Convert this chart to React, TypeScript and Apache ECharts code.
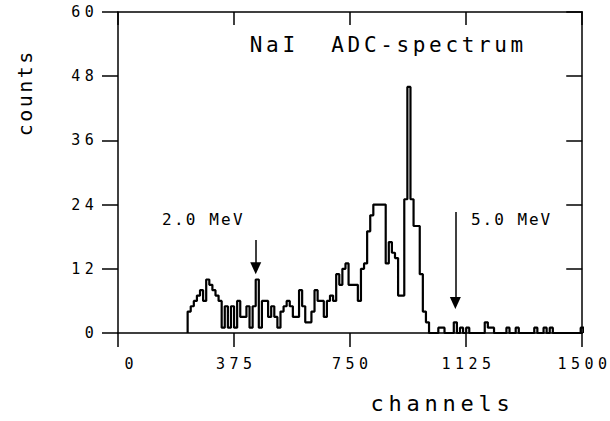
import React, { useEffect, useRef } from "react";
import * as echarts from "echarts";

// Histogram: bin start channel, bin width, counts per bin
const binStart = 225;
const binWidth = 10;
const counts = [
  4, 5, 6, 7, 8, 6, 10, 9, 8, 7,
  6, 1, 5, 1, 5, 1, 6, 3, 3, 5,
  1, 5, 10, 1, 6, 6, 3, 5, 3, 1,
  4, 5, 6, 5, 3, 3, 8, 5, 2, 2,
  4, 8, 6, 6, 3, 6, 7, 6, 11, 9,
  12, 13, 9, 9, 9, 6, 12, 13, 19, 22,
  24, 24, 24, 24, 13, 17, 15, 14, 7, 7,
  25, 46, 25, 20, 20, 11, 4, 2, 0, 0,
  0, 1, 1, 0, 0, 0, 2, 0, 1, 0,
  1, 0, 0, 0, 0, 0, 2, 1, 1, 0,
  0, 0, 0, 1, 0, 0, 1, 0, 0, 0,
  0, 0, 1, 0, 0, 1, 0, 1, 0, 0,
  0, 0, 0, 0, 0, 0, 0, 1,
];

const xTicks = [0, 375, 750, 1125, 1500];
const yTicks = [0, 12, 24, 36, 48, 60];

const titleText = "NaI  ADC-spectrum";
const xName = "channels";
const yName = "counts";
const annotations = [
  { label: "2.0 MeV", channel: 445, from: 17.4, to: 12.1 },
  { label: "5.0 MeV", channel: 1090, from: 22.6, to: 5.6 },
];

const FONT = "DejaVu Sans Mono";

function spaced(s: string, cls: string) {
  return s
    .split("")
    .map((c) => `{${cls}|${c}}`)
    .join("");
}

export default function App() {
  const ref = useRef<HTMLDivElement>(null);
  useEffect(() => {
    if (!ref.current) return;
    const chart = echarts.init(ref.current, null, { renderer: "svg" });

    const stepData: [number, number][] = [[binStart, 0]];
    counts.forEach((c, i) => stepData.push([binStart + i * binWidth, c]));
    stepData.push([binStart + counts.length * binWidth, 0]);

    const digitRich = {
      d: { width: 13.5, align: "center", fontSize: 15, fontFamily: FONT, color: "#000" },
      z: { width: 13.5, align: "center", fontSize: 15, fontFamily: FONT, color: "#000", padding: [0, 0, 0, 22] },
    };

    const option: any = {
      animation: false,
      backgroundColor: "#fff",
      grid: { left: 118, right: 24, top: 12, bottom: 88, containLabel: false },
      xAxis: [
        {
          type: "value",
          min: xTicks[0],
          max: xTicks[xTicks.length - 1],
          interval: 375,
          position: "bottom",
          axisLine: { show: true, onZero: false, lineStyle: { color: "#000", width: 1.5 } },
          axisTick: { show: true, inside: false, length: 14, lineStyle: { color: "#000", width: 1.5 } },
          axisLabel: {
            margin: 23,
            formatter: (v: number) => (v === 0 ? "{z|0}" : spaced(String(v), "d")),
            rich: digitRich,
          },
          splitLine: { show: false },
        },
        {
          type: "value",
          min: xTicks[0],
          max: xTicks[xTicks.length - 1],
          interval: 375,
          position: "top",
          axisLine: { show: true, onZero: false, lineStyle: { color: "#000", width: 1.5 } },
          axisTick: { show: true, inside: true, length: 13, lineStyle: { color: "#000", width: 1.5 } },
          axisLabel: { show: false },
          splitLine: { show: false },
        },
      ],
      yAxis: [
        {
          type: "value",
          min: yTicks[0],
          max: yTicks[yTicks.length - 1],
          interval: 12,
          position: "left",
          axisLine: { show: true, onZero: false, lineStyle: { color: "#000", width: 1.5 } },
          axisTick: { show: true, inside: false, length: 16, lineStyle: { color: "#000", width: 1.5 } },
          axisLabel: {
            margin: 22,
            formatter: (v: number) => spaced(String(v), "d"),
            rich: digitRich,
          },
          splitLine: { show: false },
        },
        {
          type: "value",
          min: yTicks[0],
          max: yTicks[yTicks.length - 1],
          interval: 12,
          position: "right",
          axisLine: { show: true, onZero: false, lineStyle: { color: "#000", width: 1.5 } },
          axisTick: { show: true, inside: true, length: 16, lineStyle: { color: "#000", width: 1.5 } },
          axisLabel: { show: false },
          splitLine: { show: false },
        },
      ],
      series: [
        {
          type: "line",
          step: "end",
          data: stepData,
          xAxisIndex: 0,
          yAxisIndex: 0,
          showSymbol: false,
          symbol: "none",
          clip: true,
          lineStyle: { color: "#000", width: 2.2 },
          markLine: {
            silent: true,
            symbol: ["none", "triangle"],
            symbolSize: [11, 12],
            label: { show: false },
            lineStyle: { color: "#000", width: 1.5, type: "solid" },
            data: annotations.map((a) => [
              { coord: [a.channel, a.from] },
              { coord: [a.channel, a.to] },
            ]),
          },
        },
      ],
      graphic: [
        {
          type: "text",
          x: 248,
          y: 45,
          style: {
            text: spaced(titleText, "t"),
            rich: { t: { width: 16.3, align: "center", fontSize: 21, fontFamily: FONT, color: "#000" } },
            align: "left",
            verticalAlign: "middle",
          },
        },
        {
          type: "text",
          x: 161,
          y: 219,
          style: {
            text: spaced(annotations[0].label, "a"),
            rich: { a: { width: 11.8, align: "center", fontSize: 16, fontFamily: FONT, color: "#000" } },
            align: "left",
            verticalAlign: "middle",
          },
        },
        {
          type: "text",
          x: 470,
          y: 219,
          style: {
            text: spaced(annotations[1].label, "a"),
            rich: { a: { width: 11.6, align: "center", fontSize: 16, fontFamily: FONT, color: "#000" } },
            align: "left",
            verticalAlign: "middle",
          },
        },
        {
          type: "text",
          x: 440,
          y: 403,
          style: {
            text: spaced(xName, "n"),
            rich: { n: { width: 18, align: "center", fontSize: 22, fontFamily: FONT, color: "#000" } },
            align: "center",
            verticalAlign: "middle",
          },
        },
        {
          type: "text",
          x: 25,
          y: 94,
          rotation: Math.PI / 2,
          style: {
            text: spaced(yName, "n"),
            rich: { n: { width: 14.5, align: "center", fontSize: 20, fontFamily: FONT, color: "#000" } },
            align: "center",
            verticalAlign: "middle",
          },
        },
      ],
    };

    chart.setOption(option);
    return () => chart.dispose();
  }, []);

  return (
    <div
      ref={ref}
      style={{ position: "fixed", left: 0, top: 0, width: 610, height: 421, background: "#fff" }}
    />
  );
}
